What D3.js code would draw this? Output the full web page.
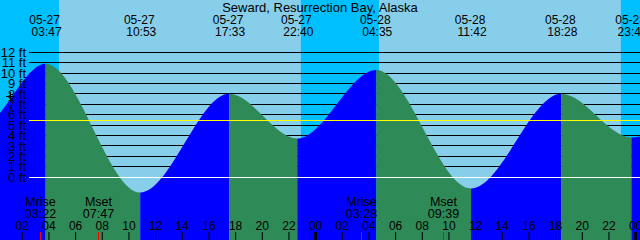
<!DOCTYPE html>
<html>
<head>
<meta charset="utf-8">
<script src="https://cdn.jsdelivr.net/npm/d3@7"></script>
<style>
  body { margin: 0; background: #fff; }
  svg { display: block; font-family: "Liberation Sans", Arial, sans-serif; }
</style>
</head>
<body>
<div id="chart"></div>
<script>
// station + window
const title = "Seward, Resurrection Bay, Alaska"
const windowStart = "05-27 00:22"
const windowEnd = "05-29 00:22"

// tide extremes (first two and last are outside the window, only shape the curve)
const tideTimes = ["05-26 17:10", "05-26 23:00", "05-27 03:47", "05-27 10:53", "05-27 17:33", "05-27 22:40",
                   "05-28 04:35", "05-28 11:42", "05-28 18:28", "05-28 23:44", "05-29 05:30"]
const tideHeights = [7.9, 5.0, 10.9, -1.5, 8.0, 3.7, 10.3, -1.1, 8.0, 3.8, 10.0]

// sun + moon
const sunrise = ["05-27 04:47", "05-28 04:47"]
const sunset = ["05-27 22:56", "05-28 22:56"]
const moonEvents = ["Mrise", "Mset", "Mrise", "Mset"]
const moonTimes = ["05-27 03:22", "05-27 07:47", "05-28 03:28", "05-28 09:39"]

// height levels (ft), mean level, current position marker
const levelTicks = [0, 1, 2, 3, 4, 5, 6, 7, 8, 9, 10, 11, 12]
const meanLevel = 5.45
const nowTime = "05-27 01:07"
const nowHeight = 7.7

const W = 640, H = 240
const parse = d3.timeParse("%m-%d %H:%M")

const x = d3.scaleTime().domain([parse(windowStart), parse(windowEnd)]).range([0, W])
const y = d3.scaleLinear().domain([0, 12]).range([177, 52.3])
const px = v => Math.floor(v) + 0.5

const svg = d3.select("#chart").append("svg")
    .attr("width", W)
    .attr("height", H)

// day background, then night bands
svg.append("rect").attr("width", W).attr("height", H).attr("fill", "#87CEEB")

const nights = [
    [parse(windowStart), parse(sunrise[0])],
    [parse(sunset[0]), parse(sunrise[1])],
    [parse(sunset[1]), parse(windowEnd)]
]
svg.selectAll(".night")
    .data(nights)
    .enter()
    .append("rect")
    .attr("x", d => x(d[0]))
    .attr("width", d => x(d[1]) - x(d[0]))
    .attr("y", 0)
    .attr("height", H)
    .attr("fill", "#00BFFF")

// foot lines (under the water)
const lineStart = 29
svg.selectAll(".level")
    .data(levelTicks.filter(d => d > 0))
    .enter()
    .append("line")
    .attr("x1", lineStart)
    .attr("x2", W)
    .attr("y1", d => px(y(d)))
    .attr("y2", d => px(y(d)))
    .attr("stroke", "#000")
    .attr("stroke-width", 1)

// tide curve
const tides = tideTimes.map((t, i) => ({ t: parse(t), h: tideHeights[i] }))

const area = d3.area()
    .x(d => x(d.t))
    .y0(H)
    .y1(d => y(d.h))
    .curve(d3.curveMonotoneX)

svg.append("clipPath")
    .attr("id", "water")
    .append("path")
    .attr("d", area(tides))

// rising = blue, falling = green
const segments = d3.pairs(tides)
svg.append("g")
    .attr("clip-path", "url(#water)")
    .selectAll("rect")
    .data(segments)
    .enter()
    .append("rect")
    .attr("x", d => x(d[0].t))
    .attr("width", d => x(d[1].t) - x(d[0].t))
    .attr("y", 0)
    .attr("height", H)
    .attr("fill", d => d[1].h > d[0].h ? "#0000FF" : "#2E8B57")

// mean level + datum
svg.append("line")
    .attr("x1", lineStart).attr("x2", W)
    .attr("y1", px(y(meanLevel))).attr("y2", px(y(meanLevel)))
    .attr("stroke", "#FFFF00")
svg.append("line")
    .attr("x1", lineStart).attr("x2", W)
    .attr("y1", px(y(0))).attr("y2", px(y(0)))
    .attr("stroke", "#FFFFFF")

// level labels
svg.selectAll(".ylab")
    .data(levelTicks)
    .enter()
    .append("text")
    .attr("x", 26)
    .attr("y", d => y(d))
    .attr("dy", "0.36em")
    .attr("text-anchor", "end")
    .attr("font-size", 13)
    .text(d => d + " ft")

// current position cross
const nx = x(parse(nowTime)), ny = y(nowHeight)
svg.append("path")
    .attr("d", `M${Math.round(nx) - 4},${px(ny)}H${Math.round(nx) + 4}M${px(nx)},${Math.round(ny) - 5}V${Math.round(ny) + 5}`)
    .attr("stroke", "#000")
    .attr("fill", "none")

// title
svg.append("text")
    .attr("x", W / 2)
    .attr("y", 12)
    .attr("text-anchor", "middle")
    .attr("font-size", 13)
    .text(title)

// extreme labels on top
const shown = tides.filter(d => x(d.t) >= 0 && x(d.t) <= W)
const fmtDate = d3.timeFormat("%m-%d"), fmtTime = d3.timeFormat("%H:%M")
const extLabels = svg.selectAll(".ext")
    .data(shown)
    .enter()
    .append("g")
    .attr("transform", d => `translate(${x(d.t)},0)`)
    .attr("text-anchor", "middle")
    .attr("font-size", 12)
extLabels.append("text").attr("x", -1).attr("y", 24).text(d => fmtDate(d.t))
extLabels.append("text").attr("x", 1).attr("y", 36).text(d => fmtTime(d.t))

// hour axis along the bottom
const axis = d3.axisTop(x)
    .ticks(d3.timeHour.every(2))
    .tickFormat(d3.timeFormat("%H"))
    .tickSize(8)
    .tickPadding(2)

const ax = svg.append("g")
    .attr("transform", `translate(0,${H})`)
    .call(axis)
ax.attr("font-family", null).attr("font-size", null)
ax.select(".domain").remove()
ax.selectAll("text").attr("font-size", 12).attr("fill", "#000")
ax.selectAll("line")
    .attr("stroke", "#000")
    .attr("stroke-width", d => d.getHours() === 0 ? 3 : 1)

// moon rise / set
const moon = moonTimes.map((t, i) => ({ t: parse(t), name: moonEvents[i] }))
const mg = svg.selectAll(".moon")
    .data(moon)
    .enter()
    .append("g")
    .attr("transform", d => `translate(${px(x(d.t))},0)`)
mg.append("line")
    .attr("y1", H - 8)
    .attr("y2", H)
    .attr("stroke", "#FF0000")
mg.append("text")
    .attr("y", 206)
    .attr("text-anchor", "middle")
    .attr("font-size", 12.5)
    .text(d => d.name)
mg.append("text")
    .attr("y", 218)
    .attr("text-anchor", "middle")
    .attr("font-size", 12.5)
    .text(d => fmtTime(d.t))
</script>
</body>
</html>
